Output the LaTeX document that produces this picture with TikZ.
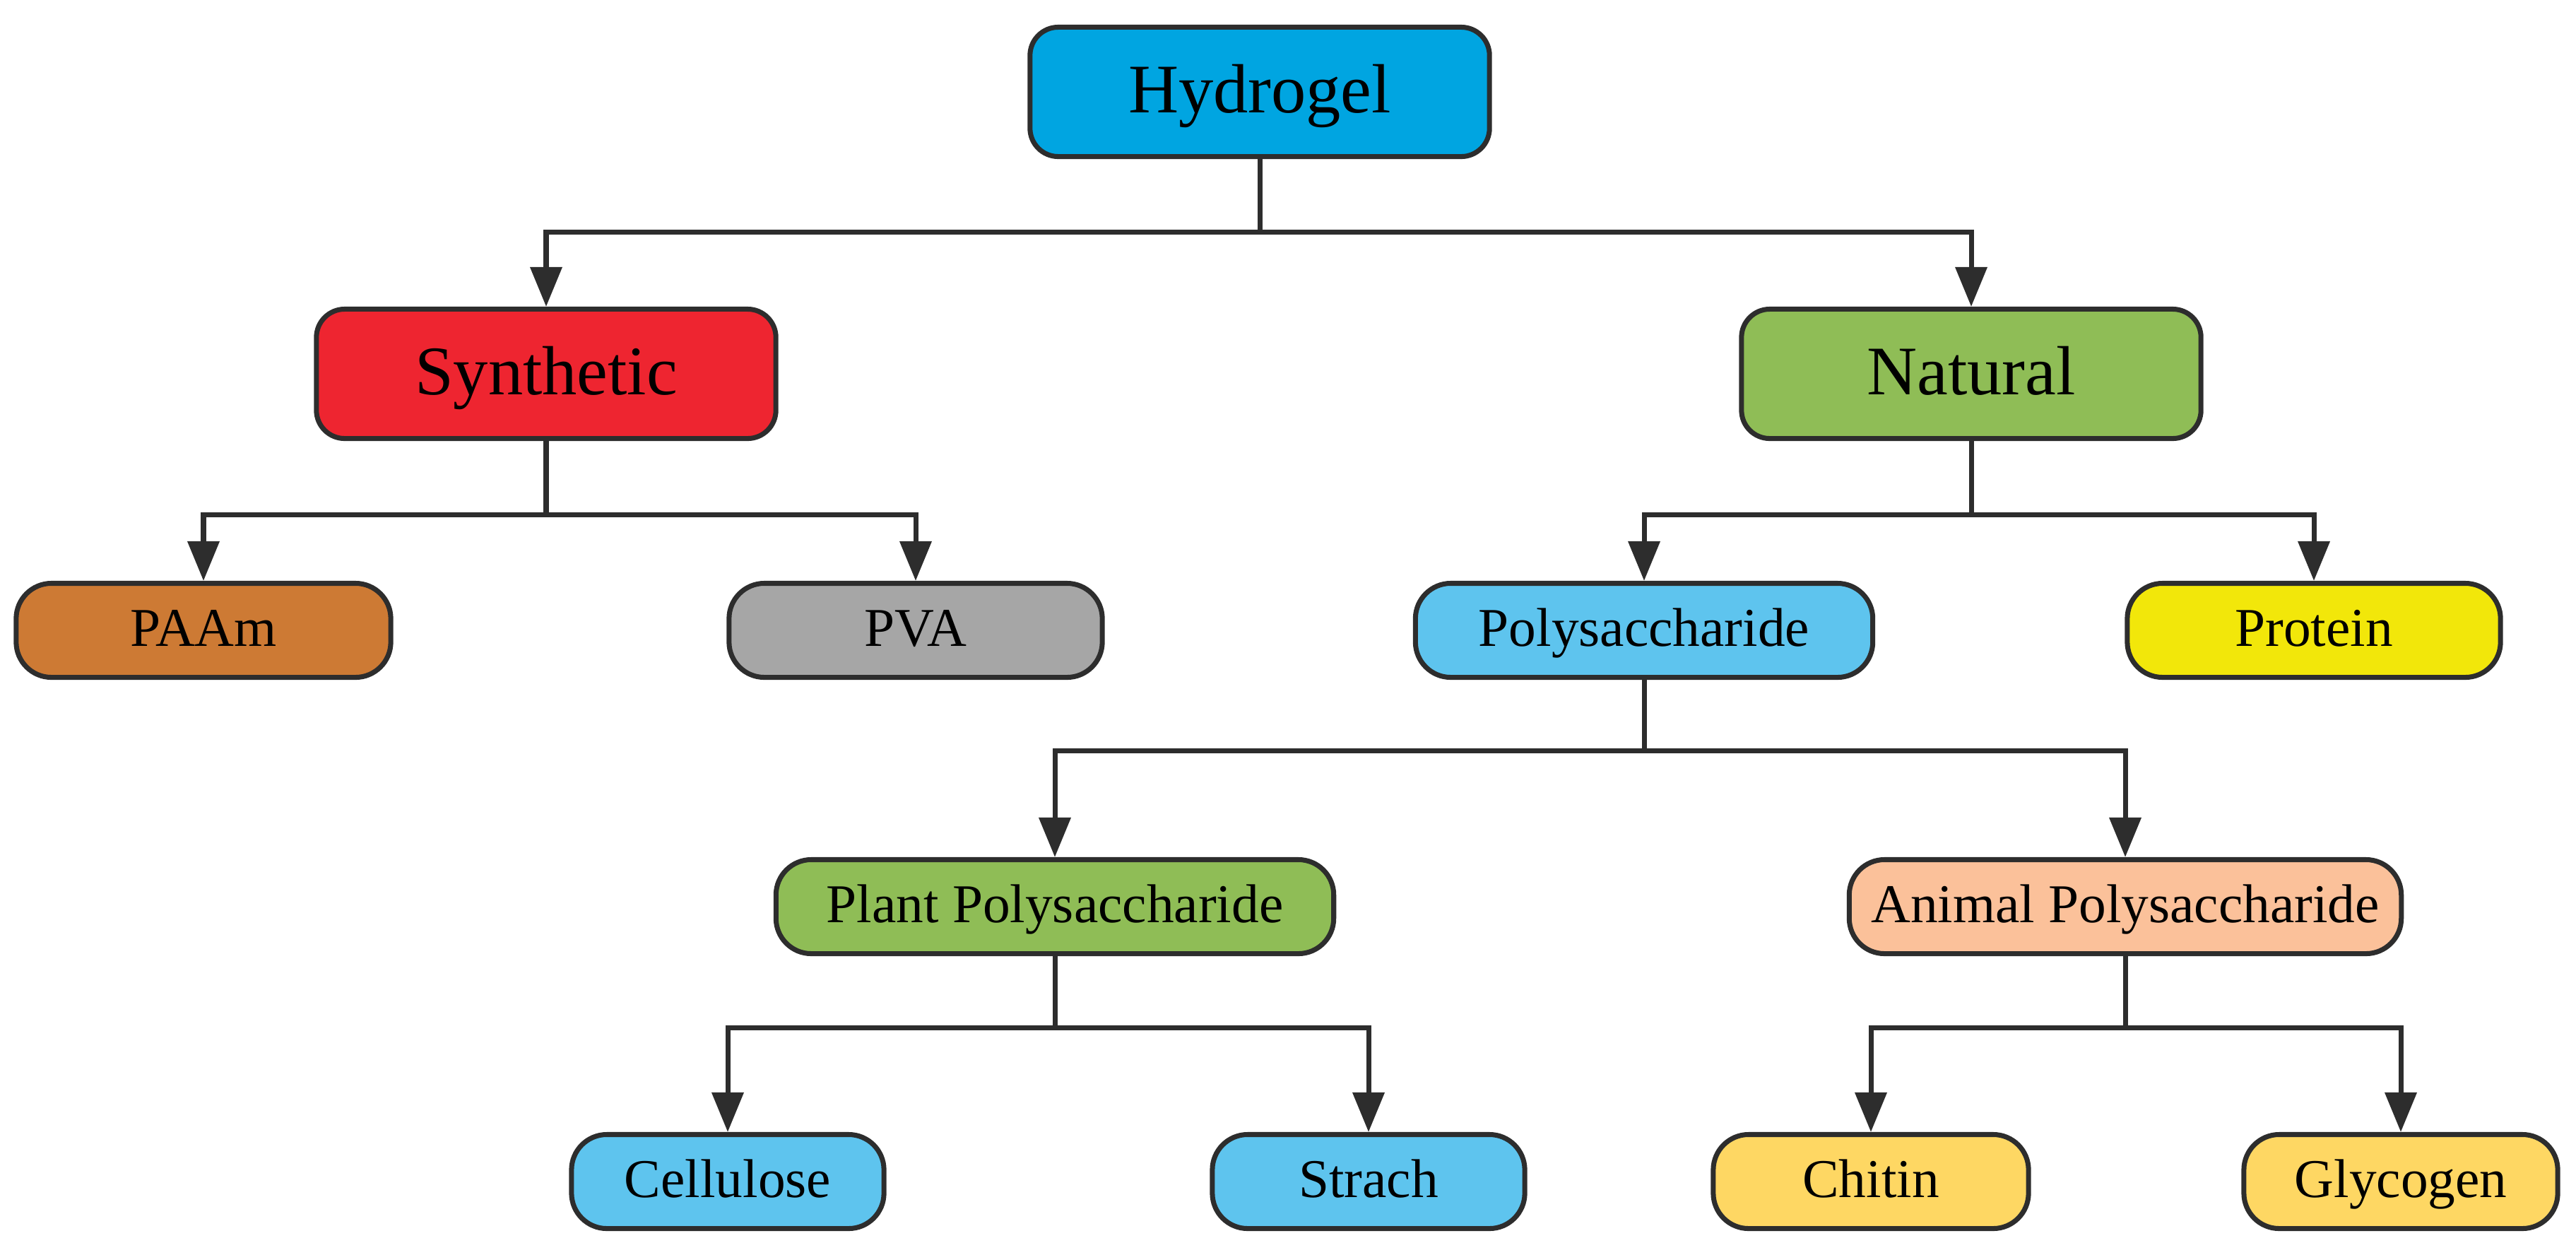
\documentclass[tikz,border=0pt]{standalone}
\usepackage{fontspec}
\setmainfont{Liberation Serif}
\usetikzlibrary{arrows.meta}
\definecolor{hydblue}{RGB}{0,165,225}
\definecolor{synred}{RGB}{238,37,48}
\definecolor{natgreen}{RGB}{143,189,86}
\definecolor{paamorange}{RGB}{205,122,52}
\definecolor{pvagray}{RGB}{166,166,166}
\definecolor{polyblue}{RGB}{94,196,238}
\definecolor{protyellow}{RGB}{242,231,10}
\definecolor{animpeach}{RGB}{251,193,154}
\definecolor{chitgold}{RGB}{254,215,99}
\definecolor{linegray}{RGB}{45,45,45}
\tikzset{
  bigbox/.style={draw=linegray, line width=2pt, rounded corners=0.4cm,
    minimum width=6.5cm, minimum height=1.83cm, inner sep=0pt,
    text height=19pt, text depth=2pt,
    font=\fontsize{28}{32}\selectfont},
  smallbox/.style={draw=linegray, line width=2pt, rounded corners=0.5cm,
    minimum height=1.33cm, inner sep=0pt,
    text height=15pt, text depth=2pt,
    font=\fontsize{22}{26}\selectfont},
  link/.style={draw=linegray, line width=2pt, ->}
}
\begin{document}
\begin{tikzpicture}[>={Triangle[width=0.44cm,length=0.56cm]}]
        \def\x{0.01}
        \def\y{-0.01}
        \useasboundingbox (0,0) rectangle (3646*\x, 1758*\y);
        \node [bigbox, fill=hydblue] (A0_0) at (1783*\x, 130*\y) {Hydrogel};
        \node [bigbox, fill=synred] (A1_0) at (773*\x, 529*\y) {Synthetic};
        \node [bigbox, fill=natgreen] (A1_1) at (2790*\x, 529*\y) {Natural};
        \node [smallbox, fill=paamorange, minimum width=5.3cm] (A2_0) at (288*\x, 892*\y) {PAAm};
        \node [smallbox, fill=pvagray, minimum width=5.28cm] (A2_1) at (1296*\x, 892*\y) {PVA};
        \node [smallbox, fill=polyblue, minimum width=6.47cm] (A2_2) at (2327*\x, 892*\y) {Polysaccharide};
        \node [smallbox, fill=protyellow, minimum width=5.28cm] (A2_3) at (3275*\x, 892*\y) {Protein};
        \node [smallbox, fill=natgreen, minimum width=7.89cm] (A3_0) at (1493*\x, 1283*\y) {Plant Polysaccharide};
        \node [smallbox, fill=animpeach, minimum width=7.81cm] (A3_1) at (3008*\x, 1283*\y) {Animal Polysaccharide};
        \node [smallbox, fill=polyblue, minimum width=4.42cm] (A4_0) at (1030*\x, 1672*\y) {Cellulose};
        \node [smallbox, fill=polyblue, minimum width=4.42cm] (A4_1) at (1937*\x, 1672*\y) {Strach};
        \node [smallbox, fill=chitgold, minimum width=4.46cm] (A4_2) at (2648*\x, 1672*\y) {Chitin};
        \node [smallbox, fill=chitgold, minimum width=4.44cm] (A4_3) at (3398*\x, 1672*\y) {Glycogen};
        \draw [link] (A0_0.south) -- ++(0, 103*\y) -| (A1_0.north);
        \draw [link] (A0_0.south) -- ++(0, 103*\y) -| (A1_1.north);
        \draw [link] (A1_0.south) -- ++(0, 104*\y) -| (A2_0.north);
        \draw [link] (A1_0.south) -- ++(0, 104*\y) -| (A2_1.north);
        \draw [link] (A1_1.south) -- ++(0, 104*\y) -| (A2_2.north);
        \draw [link] (A1_1.south) -- ++(0, 104*\y) -| (A2_3.north);
        \draw [link] (A2_2.south) -- ++(0, 100*\y) -| (A3_0.north);
        \draw [link] (A2_2.south) -- ++(0, 100*\y) -| (A3_1.north);
        \draw [link] (A3_0.south) -- ++(0, 101*\y) -| (A4_0.north);
        \draw [link] (A3_0.south) -- ++(0, 101*\y) -| (A4_1.north);
        \draw [link] (A3_1.south) -- ++(0, 101*\y) -| (A4_2.north);
        \draw [link] (A3_1.south) -- ++(0, 101*\y) -| (A4_3.north);
      \end{tikzpicture}
\end{document}
